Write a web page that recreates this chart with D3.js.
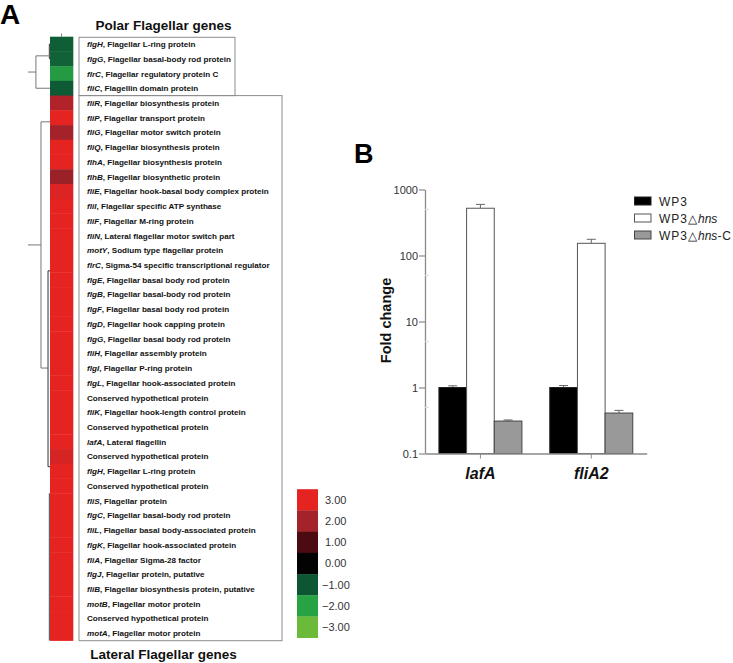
<!DOCTYPE html>
<html>
<head>
<meta charset="utf-8">
<script src="https://cdn.jsdelivr.net/npm/d3@7"></script>
<style>
  body { margin: 0; background: #fff; }
  text { font-family: "Liberation Sans", Arial, sans-serif; }
</style>
</head>
<body>
<div id="chart"></div>
<script>
// ---- panel A data ----
const geneIds = [
  'flgH', 'flgG', 'flrC', 'fliC',
  'fliR', 'fliP', 'fliG', 'fliQ', 'flhA', 'flhB', 'fliE', 'fliI', 'fliF', 'fliN', 'motY', 'flrC',
  'flgE', 'flgB', 'flgF', 'flgD', 'flgG', 'fliH', 'flgI', 'flgL', '', 'fliK', '', 'lafA', '',
  'flgH', '', 'fliS', 'flgC', 'fliL', 'flgK', 'fliA', 'flgJ', 'fliB', 'motB', '', 'motA'
];
const geneDescs = [
  ', Flagellar L-ring protein', ', Flagellar basal-body rod protein', ', Flagellar regulatory protein C', ', Flagellin domain protein',
  ', Flagellar biosynthesis protein', ', Flagellar transport protein', ', Flagellar motor switch protein',
  ', Flagellar biosynthesis protein', ', Flagellar biosynthesis protein', ', Flagellar biosynthetic protein',
  ', Flagellar hook-basal body complex protein', ', Flagellar specific ATP synthase', ', Flagellar M-ring protein',
  ', Lateral flagellar motor switch part', ', Sodium type flagellar protein', ', Sigma-54 specific transcriptional regulator',
  ', Flagellar basal body rod protein', ', Flagellar basal-body rod protein', ', Flagellar basal body rod protein',
  ', Flagellar hook capping protein', ', Flagellar basal body rod protein', ',  Flagellar assembly protein',
  ', Flagellar P-ring protein', ', Flagellar hook-associated protein', 'Conserved hypothetical protein',
  ', Flagellar hook-length control protein', 'Conserved hypothetical protein', ', Lateral flagellin',
  'Conserved hypothetical protein', ', Flagellar L-ring protein', 'Conserved hypothetical protein',
  ', Flagellar protein', ', Flagellar basal-body rod protein', ', Flagellar basal body-associated protein',
  ', Flagellar hook-associated protein', ',  Flagellar Sigma-28 factor', ', Flagellar protein, putative',
  ', Flagellar biosynthesis protein, putative', ', Flagellar motor protein', 'Conserved hypothetical protein',
  ', Flagellar motor protein'
];
const heatValues = [
  -1.1, -1.15, -1.9, -1.05,
  2.2, 3.2, 2.0, 3.1, 3.0, 1.9, 2.85, 3.0, 3.1, 3.2, 3.0, 3.0,
  3.3, 3.1, 3.2, 3.0, 3.1, 3.4, 3.1, 3.2, 3.0, 3.1, 3.2, 3.5, 2.75,
  3.0, 3.1, 3.2, 3.0, 3.1, 3.2, 3.0, 3.1, 3.0, 3.2, 3.1, 3.0
];
const polarCount = 4;
const legendValues = [3, 2, 1, 0, -1, -2, -3];
const legendColors = ['#e52421', '#a4232b', '#4b0b11', '#030303', '#0d5634', '#27a343', '#6cba39'];
// dendrogram brackets: [height, top row, bottom row, top child height, bottom child height]
const dendroBrackets = [
  [0.03, 0.5, 1.5, 0, 0],
  [0.64, 1.3, 3.5, 0, 0],
  [0.41, 5.78, 22.5, 0, 0.09],
  [0.09, 15.9, 29.2, 0, 0]
];
// stems: [from height, to height, row]
const dendroStems = [[1, 0.64, 2.4], [1, 0.41, 14.14]];

// ---- panel B data ----
const genesB = ['lafA', 'fliA2'];
const strains = ['WP3', 'hns', 'hnsC'];
const foldWP3 = [1.0, 1.0];
const foldHns = [520, 153];
const foldHnsC = [0.31, 0.41];
const errWP3 = [0.06, 0.07];
const errHns = [75, 23];
const errHnsC = [0.012, 0.04];
const yTicks = [0.1, 1, 10, 100, 1000];
const yMinor = [0.5, 5, 50, 500];

const svg = d3.select('#chart').append('svg')
    .attr('width', 733)
    .attr('height', 663);

// ================= Panel A =================
svg.append('text').attr('x', 0).attr('y', 24)
    .style('font-size', '28px').style('font-weight', 'bold').text('A');

const rows = d3.scaleBand().domain(d3.range(heatValues.length)).range([36.7, 640.5]);
const rowY = r => rows.range()[0] + r * rows.step();
const color = d3.scaleLinear().domain(legendValues).range(legendColors).clamp(true);
const dx = d3.scaleLinear().domain([0, 1]).range([50, 28]);

svg.append('g').selectAll('rect')
    .data(heatValues)
    .join('rect')
    .attr('x', 50)
    .attr('y', (d, i) => rows(i))
    .attr('width', 23.3)
    .attr('height', rows.bandwidth() + 0.4)
    .attr('fill', d => color(d));

// column tick
svg.append('line').attr('x1', 61.5).attr('x2', 61.5).attr('y1', 33.5).attr('y2', 36.7)
    .attr('stroke', '#666').attr('stroke-width', 0.8);

const dendro = svg.append('g').attr('fill', 'none').attr('stroke', '#777').attr('stroke-width', 1);
dendroBrackets.forEach(b => {
    const [h, r0, r1, h0, h1] = b;
    dendro.append('path')
        .attr('d', `M${dx(h0)},${rowY(r0)}H${dx(h)}V${rowY(r1)}H${dx(h1)}`)
        .attr('stroke', h < 0.1 ? '#333' : '#777');
});
dendroStems.forEach(s => {
    dendro.append('line')
        .attr('x1', dx(s[0])).attr('x2', dx(s[1]))
        .attr('y1', rowY(s[2])).attr('y2', rowY(s[2]));
});
dendro.append('line').attr('x1', dx(0.03)).attr('x2', dx(0.03))
    .attr('y1', rowY(31)).attr('y2', rowY(41)).attr('stroke', '#444');

// boxes
svg.append('rect').attr('x', 79).attr('y', 37.3).attr('width', 156).attr('height', rowY(polarCount) - 37.3)
    .attr('fill', 'none').attr('stroke', '#8c8c8c');
svg.append('rect').attr('x', 79).attr('y', rowY(polarCount)).attr('width', 203)
    .attr('height', 640.7 - rowY(polarCount))
    .attr('fill', 'none').attr('stroke', '#8c8c8c');

const labels = svg.append('g').selectAll('text')
    .data(geneIds)
    .join('text')
    .attr('x', 87)
    .attr('y', (d, i) => rows(i) + rows.bandwidth() / 2 + 3)
    .style('font-size', '8.1px')
    .style('font-weight', 'bold')
    .attr('fill', '#111');
labels.append('tspan').style('font-style', 'italic').text(d => d);
labels.append('tspan').text((d, i) => geneDescs[i]);

svg.append('text').attr('x', 163.5).attr('y', 30).attr('text-anchor', 'middle')
    .style('font-size', '13.5px').style('font-weight', 'bold').attr('fill', '#111')
    .text('Polar Flagellar genes');
svg.append('text').attr('x', 163.5).attr('y', 659).attr('text-anchor', 'middle')
    .style('font-size', '13.5px').style('font-weight', 'bold').attr('fill', '#111')
    .text('Lateral Flagellar genes');

// colour legend
const lg = svg.append('g');
const lgY = d3.scaleBand().domain(legendValues).range([489.2, 637.7]);
lg.selectAll('rect').data(legendValues).join('rect')
    .attr('x', 297).attr('y', d => lgY(d))
    .attr('width', 21).attr('height', lgY.bandwidth() + 0.3)
    .attr('fill', d => color(d));
lg.selectAll('text').data(legendValues).join('text')
    .attr('x', d => d < 0 ? 322 : 325)
    .attr('y', d => lgY(d) + lgY.bandwidth() / 2 + 4)
    .style('font-size', '11px').attr('fill', '#333')
    .text(d => d3.format('.2f')(d));

// ================= Panel B =================
svg.append('text').attr('x', 354).attr('y', 163)
    .style('font-size', '27px').style('font-weight', 'bold').text('B');

const y = d3.scaleLog().domain([0.1, 1000]).range([453.5, 189.5]);
const x0 = d3.scaleBand().domain(genesB).range([425, 646.7]);
const x1 = d3.scaleBand().domain(strains).range([0, 83]);
const series = {
    WP3: { v: foldWP3, e: errWP3, fill: '#000', stroke: '#222' },
    hns: { v: foldHns, e: errHns, fill: '#fff', stroke: '#555' },
    hnsC: { v: foldHnsC, e: errHnsC, fill: '#999', stroke: '#444' }
};

const yAxis = d3.axisLeft(y).tickValues(yTicks).tickFormat(d => String(d)).tickSize(6).tickSizeOuter(0);
const bars = svg.append('g');
genesB.forEach((g, gi) => {
    const cx = x0(g) + x0.bandwidth() / 2 - 41.5;
    strains.forEach(s => {
        const v = series[s].v[gi], e = series[s].e[gi];
        const bx = cx + x1(s);
        // error bar
        bars.append('line').attr('x1', bx + x1.bandwidth() / 2).attr('x2', bx + x1.bandwidth() / 2)
            .attr('y1', y(v)).attr('y2', y(v + e)).attr('stroke', '#666');
        bars.append('line').attr('x1', bx + x1.bandwidth() / 2 - 4.5).attr('x2', bx + x1.bandwidth() / 2 + 4.5)
            .attr('y1', y(v + e)).attr('y2', y(v + e)).attr('stroke', '#666');
        bars.append('rect')
            .attr('x', bx).attr('y', y(v))
            .attr('width', x1.bandwidth()).attr('height', y(0.1) - y(v))
            .attr('fill', series[s].fill).attr('stroke', series[s].stroke).attr('stroke-width', 1);
    });
});

const ya = svg.append('g').attr('transform', 'translate(425,0)').call(yAxis);
ya.select('.domain').attr('stroke', '#8a8a8a').attr('stroke-width', 1.3);
ya.selectAll('.tick line').attr('stroke', '#8a8a8a').attr('stroke-width', 1.2);
ya.selectAll('.tick text').style('font-size', '11px').style('font-family', '"Liberation Sans", Arial, sans-serif')
    .attr('fill', '#333').attr('x', -7);
svg.append('g').selectAll('line').data(yMinor).join('line')
    .attr('x1', 425).attr('x2', 429).attr('y1', d => y(d)).attr('y2', d => y(d))
    .attr('stroke', '#ddd');

const xAxis = d3.axisBottom(x0).tickSize(5).tickSizeOuter(0).tickFormat('');
const xa = svg.append('g').attr('transform', `translate(0,${y(0.1)})`).call(xAxis);
xa.select('.domain').attr('stroke', '#8a8a8a').attr('stroke-width', 1.3);
xa.selectAll('.tick line').attr('stroke', '#8a8a8a');
svg.append('g').selectAll('text').data(genesB).join('text')
    .attr('x', d => x0(d) + x0.bandwidth() / 2)
    .attr('y', 479)
    .attr('text-anchor', 'middle')
    .style('font-size', '16px').style('font-weight', 'bold').style('font-style', 'italic')
    .attr('fill', '#111')
    .text(d => d);

svg.append('text')
    .attr('transform', `translate(391,${(y(1000) + y(0.1)) / 2 - 1}) rotate(-90)`)
    .attr('text-anchor', 'middle')
    .style('font-size', '14.5px').style('font-weight', 'bold').attr('fill', '#111')
    .text('Fold change');

// legend B
const legB = svg.append('g');
const legRows = d3.scaleBand().domain(strains).range([192.5, 243.5]);
legB.selectAll('rect').data(strains).join('rect')
    .attr('x', 634.5).attr('y', d => legRows(d) + legRows.bandwidth() / 2 - 4)
    .attr('width', 16.5).attr('height', 8)
    .attr('fill', d => series[d].fill).attr('stroke', d => series[d].stroke);
const lt = legB.selectAll('text').data(strains).join('text')
    .attr('x', 659)
    .attr('y', d => legRows(d) + legRows.bandwidth() / 2 + 4.5)
    .style('font-size', '12px').style('letter-spacing', '1px').attr('fill', '#222');
lt.append('tspan').text('WP3');
lt.filter(d => d !== 'WP3').append('tspan').text('\u25B3');
lt.filter(d => d !== 'WP3').append('tspan').style('font-style', 'italic').style('letter-spacing', '0px').text('hns');
lt.filter(d => d === 'hnsC').append('tspan').text('-C');
</script>
</body>
</html>
